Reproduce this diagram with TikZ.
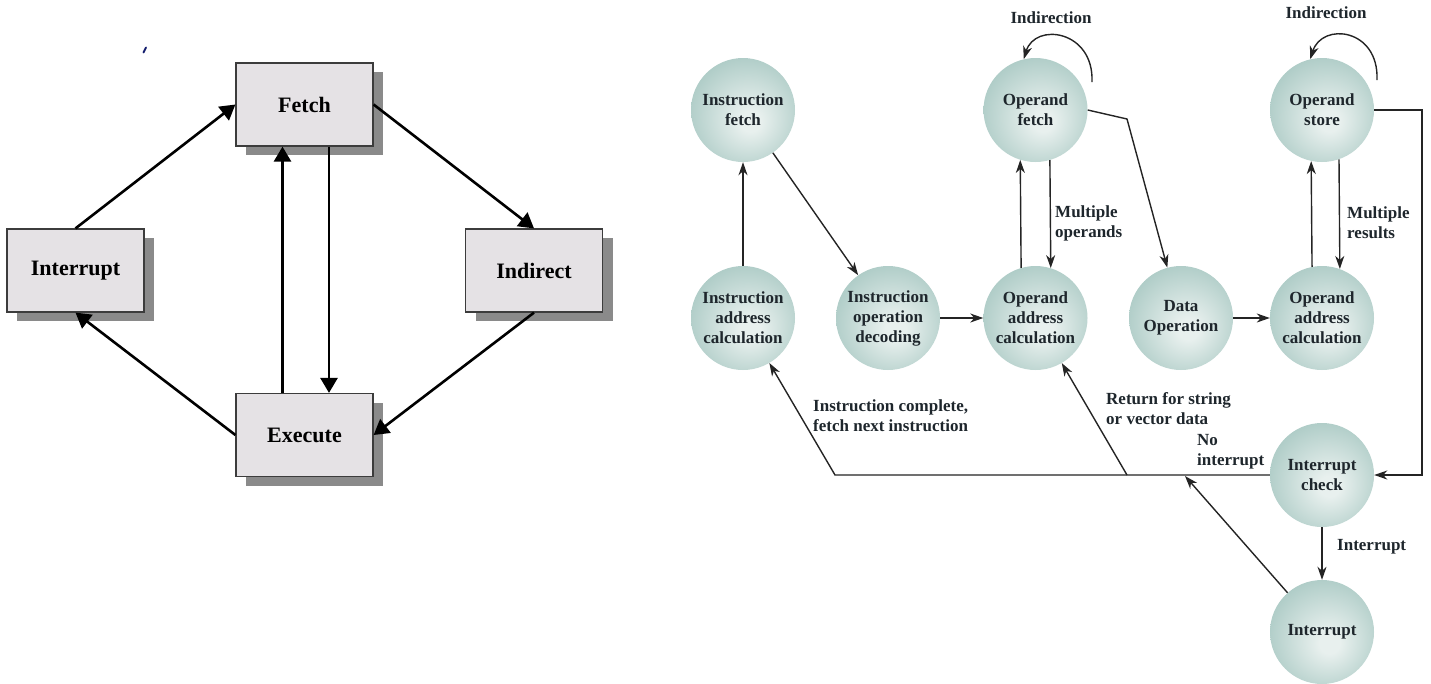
\documentclass[tikz,border=0pt]{standalone}
\usepackage{fontspec}
\setmainfont{Liberation Serif}
\usetikzlibrary{arrows.meta,shadows}

\definecolor{boxfill}{RGB}{229,226,229}
\definecolor{boxline}{RGB}{60,60,60}
\definecolor{boxshadow}{RGB}{138,138,138}
\definecolor{ink}{RGB}{30,38,44}
\definecolor{wire}{RGB}{36,36,36}
\definecolor{ballhi}{RGB}{232,240,238}
\definecolor{ballmid}{RGB}{176,205,200}
\definecolor{ballrim}{RGB}{120,162,156}
\definecolor{stray}{RGB}{20,30,110}

% soft teal sphere used for the state circles
\pgfdeclareradialshading{stateball}{\pgfpoint{4bp}{-6bp}}{%
  color(0bp)=(ballhi); color(5bp)=(ballhi); color(28bp)=(ballmid); color(50bp)=(ballrim)}

\tikzset{
  cyclebox/.style={draw=boxline, line width=1.2pt, fill=boxfill,
    minimum width=137pt, minimum height=83pt, inner sep=0pt,
    font=\fontsize{22}{26}\selectfont\bfseries,
    drop shadow={shadow xshift=10pt, shadow yshift=-9pt, fill=boxshadow, opacity=1}},
  bigarrow/.style={draw=black, line width=2.6pt, -{Triangle[length=15pt,width=17pt]}},
  state/.style={circle, minimum size=104pt, inner sep=0pt, shading=stateball,
    text=ink, align=center, font=\fontsize{17}{20}\selectfont\bfseries},
  flow/.style={draw=wire, line width=1.4pt, -{Stealth[length=13pt,width=9pt,inset=4pt]}},
  tag/.style={text=ink, align=left, inner sep=0pt, anchor=west,
    font=\fontsize{17}{20}\selectfont\bfseries}
}

\begin{document}
\begin{tikzpicture}[x=1pt, y=-1pt]
\useasboundingbox (0,0) rectangle (1431,683);

% ---------------- instruction cycle (boxes) ----------------
\draw[line width=2pt, stray, line cap=round] (143.5,52.5) -- (146,47.5);

\node[cyclebox] (fetch) at (304.5,104.5) {Fetch};
\node[cyclebox] (intr)  at (75.5,270.5)  {Interrupt};
\node[cyclebox] (indir) at (534,270.5)   {Indirect};
\node[cyclebox] (exec)  at (304.5,435)   {Execute};

\draw[bigarrow] (intr.north) -- (fetch.west);
\draw[bigarrow] (fetch.east) -- (indir.north);
\draw[bigarrow] (indir.south) -- (exec.east);
\draw[bigarrow] (exec.west) -- (intr.south);
\draw[bigarrow] ([xshift=-22pt]exec.north) -- ([xshift=-22pt]fetch.south);
\draw[bigarrow] ([xshift=24.5pt]fetch.south) -- ([xshift=24.5pt]exec.north);

% ---------------- instruction cycle state diagram ----------------
\node[state] (ifetch) at (743,110)    {Instruction\\fetch};
\node[state] (ofetch) at (1035.5,110) {Operand\\fetch};
\node[state] (ostore) at (1322,110)   {Operand\\store};
\node[state] (iaddr)  at (743,318)    {Instruction\\address\\calculation};
\node[state] (idec)   at (888,318)    {Instruction\\operation\\decoding};
\node[state] (oaddr)  at (1035.5,318) {Operand\\address\\calculation};
\node[state] (dataop) at (1181,318)   {Data\\Operation};
\node[state] (oaddrb) at (1322,318)   {Operand\\address\\calculation};
\node[state] (icheck) at (1322,475)   {Interrupt\\check};
\node[state] (intsvc) at (1322,632)   {Interrupt};

\coordinate (ofloop) at (1092,82);
\coordinate (osloop) at (1377,80);
\coordinate (bend1)  at (1127,119);
\coordinate (rside)  at (1422,475);
\coordinate (lowL)   at (835,475);
\coordinate (retpt)  at (1127,475);
\coordinate (backpt) at (1185,476);

\draw[flow] (iaddr) -- (ifetch);
\draw[flow] (ifetch) -- (idec);
\draw[flow] (idec) -- (oaddr);
\draw[flow] (oaddr.106.8) -- (ofetch.253.2);
\draw[flow] (ofetch.286.2) -- (oaddr.73.8);
\draw[flow] (ofloop) .. controls (1094,30) and (1035,22) .. (ofetch.103.5);
\draw[flow] (ofetch.east) -- (bend1) -- (dataop);
\draw[flow] (dataop) -- (oaddrb);
\draw[flow] (oaddrb.101.1) -- (ostore.258.9);
\draw[flow] (ostore.289.1) -- (oaddrb.70.9);
\draw[flow] (osloop) .. controls (1379,28) and (1322,22) .. (ostore.103.5);
\draw[flow] (ostore.east) -| (rside) -- (icheck.east);
\draw[flow] (icheck.west) -- (lowL) -- (iaddr);
\draw[flow] (retpt) -- (oaddr);
\draw[flow] (icheck) -- (intsvc);
\draw[flow] (intsvc) -- (backpt);

\node[tag, anchor=center] (tind1) at (1051,18) {Indirection};
\node[tag, anchor=center] (tind2) at (1326,13) {Indirection};
\node[tag] (tmop)  at (1055,223) {Multiple\\operands};
\node[tag] (tmres) at (1347,223) {Multiple\\results};
\node[tag] (tdone) at (813,416)  {Instruction complete,\\fetch next instruction};
\node[tag] (tret)  at (1106,409) {Return for string\\or vector data};
\node[tag] (tnoi)  at (1197,452) {No\\interrupt};
\node[tag] (tint)  at (1337,547) {Interrupt};
\end{tikzpicture}
\end{document}
